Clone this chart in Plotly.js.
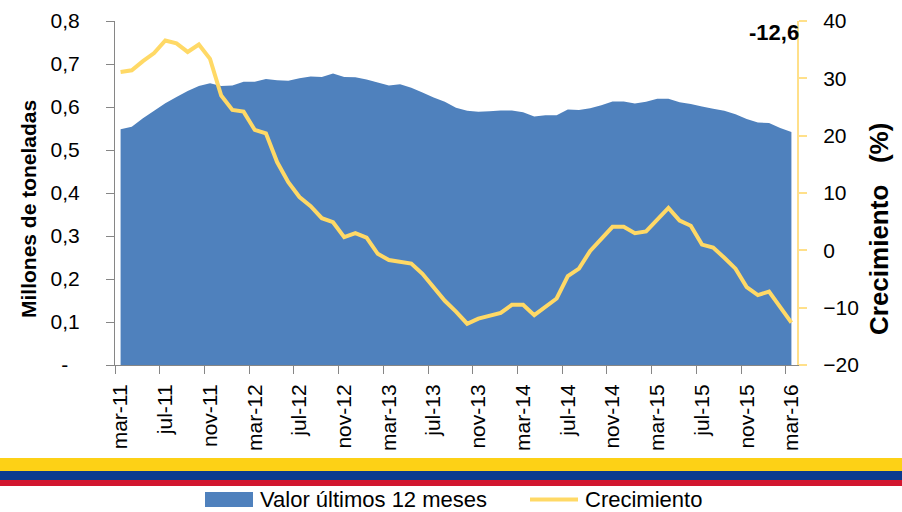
<!DOCTYPE html>
<html>
<head>
<meta charset="utf-8">
<script src="https://cdn.plot.ly/plotly-3.0.1.min.js"></script>
<style>html,body{margin:0;padding:0;background:#fff;}#chart{width:902px;height:512px;}</style>
</head>
<body>
<div id="chart"></div>
<script>
// ---- data ----
const months = [
  "mar-11","abr-11","may-11","jun-11","jul-11","ago-11","sep-11","oct-11","nov-11","dic-11","ene-12","feb-12",
  "mar-12","abr-12","may-12","jun-12","jul-12","ago-12","sep-12","oct-12","nov-12","dic-12","ene-13","feb-13",
  "mar-13","abr-13","may-13","jun-13","jul-13","ago-13","sep-13","oct-13","nov-13","dic-13","ene-14","feb-14",
  "mar-14","abr-14","may-14","jun-14","jul-14","ago-14","sep-14","oct-14","nov-14","dic-14","ene-15","feb-15",
  "mar-15","abr-15","may-15","jun-15","jul-15","ago-15","sep-15","oct-15","nov-15","dic-15","ene-16","feb-16",
  "mar-16"
];
const valorUltimos12 = [
  0.548,0.554,0.574,0.591,0.609,0.623,0.637,0.649,0.655,0.649,
  0.650,0.659,0.659,0.665,0.662,0.661,0.667,0.671,0.670,0.678,
  0.670,0.669,0.664,0.657,0.650,0.653,0.645,0.634,0.622,0.612,
  0.598,0.591,0.589,0.590,0.592,0.592,0.588,0.578,0.581,0.581,
  0.594,0.593,0.597,0.604,0.613,0.613,0.608,0.612,0.619,0.619,
  0.611,0.607,0.601,0.596,0.591,0.583,0.572,0.564,0.563,0.551,
  0.542
];
const crecimiento = [
  31.1,31.4,33.0,34.4,36.6,36.1,34.6,35.9,33.4,27.0,
  24.5,24.2,21.0,20.4,15.4,11.9,9.3,7.7,5.6,4.9,
  2.3,3.0,2.2,-0.6,-1.7,-2.0,-2.3,-4.1,-6.5,-8.8,
  -10.7,-12.8,-11.9,-11.4,-10.9,-9.5,-9.5,-11.3,-9.9,-8.4,
  -4.5,-3.2,-0.1,2.1,4.1,4.1,3.0,3.3,5.4,7.4,
  5.2,4.3,1.0,0.5,-1.3,-3.2,-6.4,-7.8,-7.2,-10.0,
  -12.6
];
const xTickLabels = ["mar-11","jul-11","nov-11","mar-12","jul-12","nov-12","mar-13","jul-13","nov-13","mar-14","jul-14","nov-14","mar-15","jul-15","nov-15","mar-16"];
const yLeftTickVals = [0,0.1,0.2,0.3,0.4,0.5,0.6,0.7,0.8];
const yLeftTickText = ["-\u00a0\u00a0","0,1","0,2","0,3","0,4","0,5","0,6","0,7","0,8"];
const yRightTickVals = [-20,-10,0,10,20,30,40];
const lastLabel = "-12,6";

// ---- layout helpers ----
const W = 902, H = 512;
const M = {l:115, r:105, t:21, b:147};
const PW = W - M.l - M.r, PH = H - M.t - M.b;
const px = v => (v - M.l) / PW;
const py = v => (H - M.b - v) / PH;

const xIdx = months.map((m, i) => i);
const xTickVals = xTickLabels.map(l => months.indexOf(l));
const boundaryTicks = xTickVals.map(v => v - 0.5);

const FAM = "Liberation Sans, Arial, sans-serif";
const tickFont = {family: FAM, size: 21, color: "#000"};
const legendFont = {family: FAM, size: 22, color: "#000"};

const traces = [
  {
    x: xIdx, y: valorUltimos12, type: "scatter", mode: "none",
    fill: "tozeroy", fillcolor: "#4F81BD", name: "Valor últimos 12 meses",
    yaxis: "y", hoverinfo: "skip"
  },
  {
    x: xIdx, y: crecimiento, type: "scatter", mode: "lines",
    line: {color: "#FFD966", width: 4}, name: "Crecimiento",
    yaxis: "y2", hoverinfo: "skip"
  }
];

const layout = {
  width: W, height: H,
  margin: M,
  paper_bgcolor: "#fff", plot_bgcolor: "rgba(0,0,0,0)",
  showlegend: false,
  xaxis: {
    range: [-0.5, 60.5], showgrid: false, zeroline: false,
    showline: true, linecolor: "#868686", linewidth: 1,
    tickmode: "array", tickvals: xTickVals, ticktext: xTickLabels,
    ticks: "", tickangle: -90, tickfont: tickFont, ticklabelstandoff: 10,
    minor: {tickmode: "array", tickvals: boundaryTicks, ticks: "outside", ticklen: 8, tickcolor: "#868686", tickwidth: 1, showgrid: false}
  },
  yaxis: {
    range: [0, 0.8], showgrid: false, zeroline: false,
    showline: true, linecolor: "#868686", linewidth: 1,
    tickmode: "array", tickvals: yLeftTickVals, ticktext: yLeftTickText,
    ticks: "outside", ticklen: 8, tickcolor: "#868686",
    tickfont: tickFont, ticklabelstandoff: 22
  },
  yaxis2: {
    range: [-20, 40], overlaying: "y", side: "right", anchor: "x",
    showgrid: false, zeroline: false,
    showline: true, linecolor: "#FFE08A", linewidth: 2,
    tickmode: "array", tickvals: yRightTickVals,
    ticks: "outside", ticklen: 8, tickcolor: "#FFE08A", tickwidth: 2,
    tickfont: tickFont, ticklabelstandoff: 12
  },
  shapes: [
    {type:"rect", xref:"paper", yref:"paper", x0:px(-10), x1:px(W+10), y0:py(458), y1:py(471), fillcolor:"#FDD116", line:{width:0}, layer:"above"},
    {type:"rect", xref:"paper", yref:"paper", x0:px(-10), x1:px(W+10), y0:py(471), y1:py(480), fillcolor:"#0B3A8E", line:{width:0}, layer:"above"},
    {type:"rect", xref:"paper", yref:"paper", x0:px(-10), x1:px(W+10), y0:py(480), y1:py(486), fillcolor:"#D2162F", line:{width:0}, layer:"above"},
    {type:"rect", xref:"paper", yref:"paper", x0:px(205), x1:px(253), y0:py(492), y1:py(507), fillcolor:"#4F81BD", line:{width:0}, layer:"above"},
    {type:"line", xref:"paper", yref:"paper", x0:px(530), x1:px(578), y0:py(499.5), y1:py(499.5), line:{color:"#FFD966", width:4}, layer:"above"}
  ],
  annotations: [
    {xref:"paper", yref:"paper", x:px(28), y:py(209), text:"Millones de toneladas", textangle:-90, showarrow:false, font:{family:FAM, size:21, color:"#000", weight:"bold"}, xanchor:"center", yanchor:"middle"},
    {xref:"paper", yref:"paper", x:px(879), y:py(229), text:"Crecimiento\u00a0\u00a0\u00a0(%)", textangle:-90, showarrow:false, font:{family:FAM, size:26, color:"#000", weight:"bold"}, xanchor:"center", yanchor:"middle"},
    {xref:"paper", yref:"paper", x:px(774), y:py(32.5), text:lastLabel, showarrow:false, font:{family:FAM, size:22, color:"#000", weight:"bold"}, xanchor:"center", yanchor:"middle"},
    {xref:"paper", yref:"paper", x:px(258), y:py(499), text:"Valor últimos 12 meses", showarrow:false, font:legendFont, xanchor:"left", yanchor:"middle"},
    {xref:"paper", yref:"paper", x:px(583), y:py(499), text:"Crecimiento", showarrow:false, font:legendFont, xanchor:"left", yanchor:"middle"}
  ]
};

Plotly.newPlot("chart", traces, layout, {staticPlot: true, displayModeBar: false});
</script>
</body>
</html>
